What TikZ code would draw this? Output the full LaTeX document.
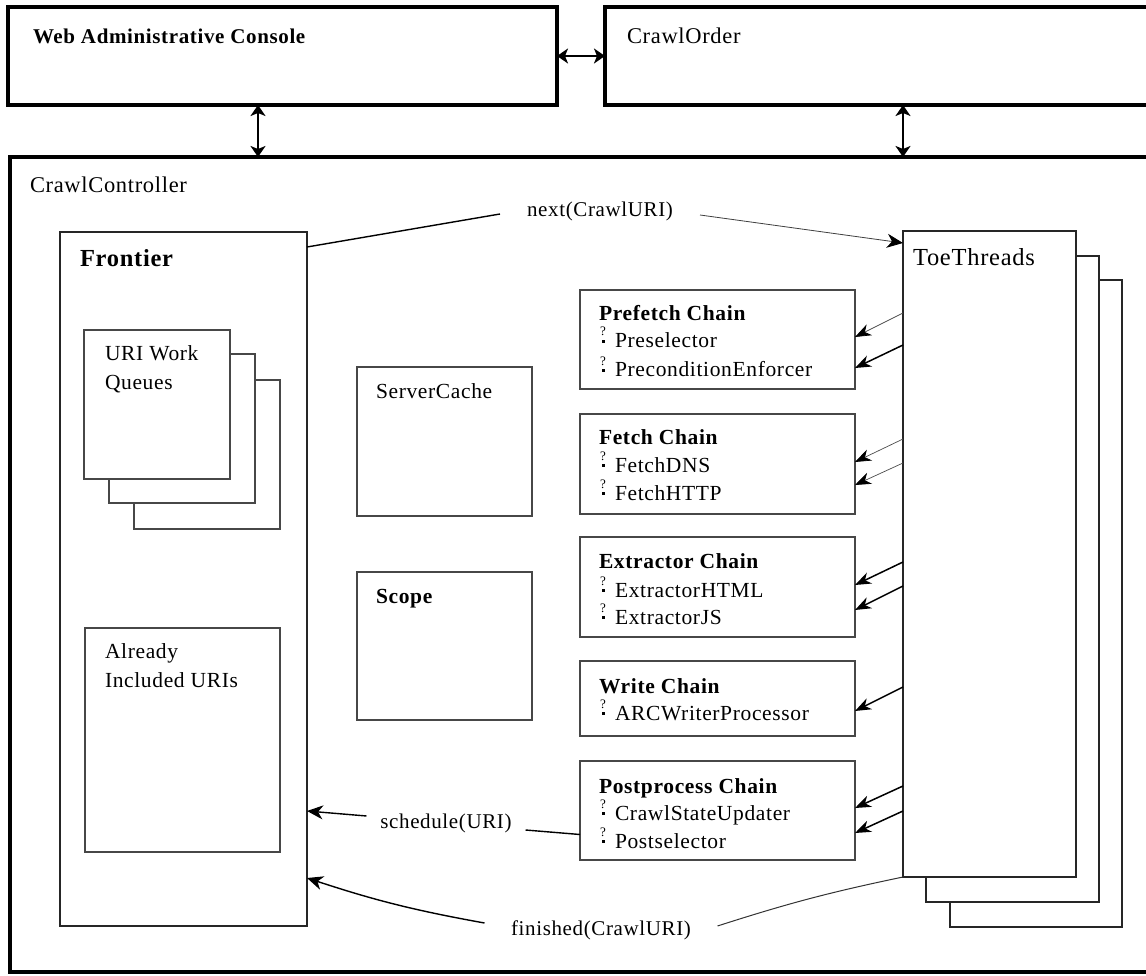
\documentclass[tikz,border=0pt]{standalone}
\usepackage{fontspec}
\setmainfont{Liberation Serif}[LetterSpace=3]
\usetikzlibrary{arrows.meta,calc}

% small "?" mark stacked over a dot, used in front of each processor name
\newcommand\qd{\makebox[15pt][l]{\rlap{\raisebox{12pt}{\fontsize{13}{13}\selectfont ?}}\hspace{2pt}\raisebox{5.5pt}{\rule{2.8pt}{2.8pt}}}}

\begin{document}
\begin{tikzpicture}[x=1pt,y=-1pt,
  bigbox/.style={draw=black,line width=4pt,fill=white,anchor=north west,inner sep=0pt,outer sep=0pt},
  panel/.style={draw=black!72,line width=1.8pt,fill=white,anchor=north west,inner sep=0pt,outer sep=0pt},
  frame/.style={draw=black!85,line width=1.3pt,fill=white,anchor=north west,inner sep=0pt,outer sep=0pt},
  txt/.style={anchor=base west,inner sep=0pt,outer sep=0pt,font=\fontsize{21.5}{24}\selectfont},
  btxt/.style={txt,font=\fontsize{21.5}{24}\selectfont\bfseries},
  head/.style={txt,font=\fontsize{22.5}{26}\selectfont},
  bhead/.style={txt,font=\fontsize{21}{26}\selectfont\bfseries},
  msg/.style={anchor=center,inner sep=0pt,outer sep=0pt,font=\fontsize{21}{24}\selectfont},
  dbl/.style={line width=2.2pt,{Stealth[length=11pt,width=15pt,inset=3pt]}-{Stealth[length=11pt,width=15pt,inset=3pt]}},
  flow/.style={line width=1.4pt,-{Stealth[length=16pt,width=14pt,inset=5pt]}},
  feed/.style={line width=1.5pt,-{Stealth[length=16pt,width=12pt,inset=5pt]}},
  feedthin/.style={line width=0.7pt,draw=black!70,-{Stealth[length=16pt,width=12pt,inset=5pt,color=black]}},
]
\fill[white] (0,0) rectangle (1146,976);
\useasboundingbox (0,0) rectangle (1146,976);

% ---- top level components ----
\node[bigbox,minimum width=549pt,minimum height=98pt] (wac) at (8,7) {};
\node[bigbox,minimum width=560pt,minimum height=98pt] (order) at (605,7) {};
\node[bigbox,minimum width=1150pt,minimum height=815pt] (ctrl) at (10,157) {};

\node[bhead] (wact) at (33,44) {Web Administrative Console};
\node[head] (ordert) at (627,44) {CrawlOrder};
\node[head] (ctrlt) at (30,193) {CrawlController};

\coordinate (a1) at (258,0);
\coordinate (a2) at (903,0);
\draw[dbl] (wac.east) -- (order.west);
\draw[dbl] (a1 |- wac.south) -- (a1 |- ctrl.north);
\draw[dbl] (a2 |- order.south) -- (a2 |- ctrl.north);

% ---- Frontier ----
\node[frame,minimum width=247pt,minimum height=694pt] (front) at (60,232) {};
\node[txt,font=\fontsize{24.5}{28}\selectfont\bfseries] (frontt) at (80,267) {Frontier};

\node[panel,minimum width=146pt,minimum height=149pt] (q3) at (134,380) {};
\node[panel,minimum width=146pt,minimum height=149pt] (q2) at (109,354) {};
\node[panel,minimum width=146pt,minimum height=149pt] (q1) at (84,330) {};
\node[txt] (q1a) at (105,360) {URI Work};
\node[txt] (q1b) at (105,389) {Queues};

\node[panel,minimum width=195pt,minimum height=224pt] (seen) at (85,628) {};
\node[txt] (seena) at (105,658) {Already};
\node[txt] (seenb) at (105,687) {Included URIs};

% ---- shared services ----
\node[panel,minimum width=175pt,minimum height=149pt] (cache) at (357,367) {};
\node[txt] (cachet) at (376,398) {ServerCache};
\node[panel,minimum width=175pt,minimum height=148pt] (scope) at (357,572) {};
\node[btxt] (scopet) at (376,603) {Scope};

% ---- processor chains ----
\node[panel,minimum width=275pt,minimum height=99pt] (pre) at (580,290) {};
\node[btxt] (pret) at (599,320) {Prefetch Chain};
\node[txt] (pre1) at (600,348) {\qd Preselector};
\node[txt] (pre2) at (600,377) {\qd PreconditionEnforcer};

\node[panel,minimum width=275pt,minimum height=100pt] (fet) at (580,414) {};
\node[btxt] (fett) at (599,444) {Fetch Chain};
\node[txt] (fet1) at (600,472) {\qd FetchDNS};
\node[txt] (fet2) at (600,500) {\qd FetchHTTP};

\node[panel,minimum width=275pt,minimum height=100pt] (ext) at (580,537) {};
\node[btxt] (extt) at (599,568) {Extractor Chain};
\node[txt] (ext1) at (600,597) {\qd ExtractorHTML};
\node[txt] (ext2) at (600,624) {\qd ExtractorJS};

\node[panel,minimum width=275pt,minimum height=75pt] (wri) at (580,661) {};
\node[btxt] (writ) at (599,693) {Write Chain};
\node[txt] (wri1) at (600,720) {\qd ARCWriterProcessor};

\node[panel,minimum width=275pt,minimum height=99pt] (post) at (580,761) {};
\node[btxt] (postt) at (599,793) {Postprocess Chain};
\node[txt] (post1) at (600,820) {\qd CrawlStateUpdater};
\node[txt] (post2) at (600,848) {\qd Postselector};

% ---- ToeThreads ----
\node[frame,minimum width=172pt,minimum height=647pt] (toe3) at (950,280) {};
\node[frame,minimum width=173pt,minimum height=646pt] (toe2) at (926,256) {};
\node[frame,minimum width=173pt,minimum height=646pt] (toe1) at (903,231) {};
\node[txt,font=\fontsize{24.5}{28}\selectfont] (toet) at (913,266) {ToeThreads};

% threads invoke the chains
\draw[feedthin] ($(toe1.north west)+(0,82)$)  -- ($(pre.north east)+(0,47)$);
\draw[feed]     ($(toe1.north west)+(0,114)$) -- ($(pre.north east)+(0,78)$);
\draw[feedthin] ($(toe1.north west)+(0,208)$) -- ($(fet.north east)+(0,48)$);
\draw[feedthin] ($(toe1.north west)+(0,232)$) -- ($(fet.north east)+(0,71)$);
\draw[feed]     ($(toe1.north west)+(0,331)$) -- ($(ext.north east)+(0,48)$);
\draw[feed]     ($(toe1.north west)+(0,355)$) -- ($(ext.north east)+(0,73)$);
\draw[feed]     ($(toe1.north west)+(0,456)$) -- ($(wri.north east)+(0,50)$);
\draw[feed]     ($(toe1.north west)+(0,555)$) -- ($(post.north east)+(0,47)$);
\draw[feed]     ($(toe1.north west)+(0,580)$) -- ($(post.north east)+(0,72)$);

% ---- messages between Frontier and ToeThreads ----
\node[msg,minimum width=200pt] (nxt) at (600,211) {next(CrawlURI)};
\draw[line width=1.4pt] ($(front.north east)+(0,15)$) -- ($(nxt.west)+(0,3)$);
\draw[line width=0.8pt,draw=black!75,-{Stealth[length=16pt,width=14pt,inset=5pt,color=black]}]
  ($(nxt.east)+(0,4)$) -- ($(toe1.north west)+(0,12)$);

\node[msg,minimum width=159pt] (sched) at (446,823) {schedule(URI)};
\draw[flow] ($(sched.west)+(0,-7)$) -- ($(front.north east)+(0,579)$);
\draw[line width=1.4pt] ($(post.west)+(0,24)$) -- ($(sched.east)+(0,7)$);

\node[msg,minimum width=233pt] (fin) at (601,930) {finished(CrawlURI)};
\draw[flow] ($(fin.west)+(0,-7)$) to[bend left=4] ($(front.north east)+(0,646)$);
\draw[line width=1pt,draw=black!80] (toe1.south west) to[bend right=3] ($(fin.east)+(0,-4)$);
\end{tikzpicture}
\end{document}
